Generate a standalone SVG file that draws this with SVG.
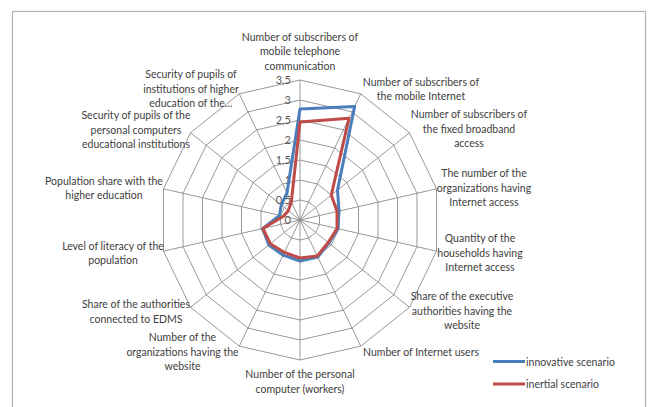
<svg xmlns="http://www.w3.org/2000/svg" width="649" height="407" viewBox="0 0 649 407">
<style>
.bg{fill:#ffffff}
.frame{fill:none;stroke:#b4b4b4;stroke-width:1.2}
.ring{fill:none;stroke:#8c8c8c;stroke-width:0.9}
.spoke{fill:none;stroke:#8c8c8c;stroke-width:0.9}
.tick{font-family:Lato,"Liberation Sans",sans-serif;font-size:11px;fill:#595959;text-anchor:end}
.lbl{font-family:Lato,"Liberation Sans",sans-serif;font-size:10.5px;fill:#404040;text-anchor:middle}
.leg{font-family:Lato,"Liberation Sans",sans-serif;font-size:10.5px;fill:#404040}
.blue{fill:none;stroke:#4a7ebb;stroke-width:3;stroke-linejoin:round}
.red{fill:none;stroke:#be4b48;stroke-width:3;stroke-linejoin:round}
</style>
<rect class="bg" x="0" y="0" width="649" height="407"/>
<rect id="frame" class="frame" x="12.5" y="11.5" width="633" height="405"/>
<g id="grid" transform="translate(300,220)">
<polygon class="ring" points="0,-20 8.68,-18.02 15.64,-12.47 19.50,-4.45 19.50,4.45 15.64,12.47 8.68,18.02 0,20 -8.68,18.02 -15.64,12.47 -19.50,4.45 -19.50,-4.45 -15.64,-12.47 -8.68,-18.02"/>
<polygon class="ring" points="0,-40 17.36,-36.04 31.27,-24.94 39.00,-8.90 39.00,8.90 31.27,24.94 17.36,36.04 0,40 -17.36,36.04 -31.27,24.94 -39.00,8.90 -39.00,-8.90 -31.27,-24.94 -17.36,-36.04"/>
<polygon class="ring" points="0,-60 26.03,-54.06 46.91,-37.41 58.50,-13.35 58.50,13.35 46.91,37.41 26.03,54.06 0,60 -26.03,54.06 -46.91,37.41 -58.50,13.35 -58.50,-13.35 -46.91,-37.41 -26.03,-54.06"/>
<polygon class="ring" points="0,-80 34.71,-72.08 62.55,-49.88 77.99,-17.80 77.99,17.80 62.55,49.88 34.71,72.08 0,80 -34.71,72.08 -62.55,49.88 -77.99,17.80 -77.99,-17.80 -62.55,-49.88 -34.71,-72.08"/>
<polygon class="ring" points="0,-100 43.39,-90.10 78.18,-62.35 97.49,-22.25 97.49,22.25 78.18,62.35 43.39,90.10 0,100 -43.39,90.10 -78.18,62.35 -97.49,22.25 -97.49,-22.25 -78.18,-62.35 -43.39,-90.10"/>
<polygon class="ring" points="0,-120 52.07,-108.12 93.82,-74.82 116.99,-26.70 116.99,26.70 93.82,74.82 52.07,108.12 0,120 -52.07,108.12 -93.82,74.82 -116.99,26.70 -116.99,-26.70 -93.82,-74.82 -52.07,-108.12"/>
<polygon class="ring" points="0,-140 60.74,-126.14 109.46,-87.29 136.49,-31.15 136.49,31.15 109.46,87.29 60.74,126.14 0,140 -60.74,126.14 -109.46,87.29 -136.49,31.15 -136.49,-31.15 -109.46,-87.29 -60.74,-126.14"/>
<path class="spoke" d="M0,-140L0,140M60.74,-126.14L-60.74,126.14M109.46,-87.29L-109.46,87.29M136.49,-31.15L-136.49,31.15M136.49,31.15L-136.49,-31.15M109.46,87.29L-109.46,-87.29M60.74,126.14L-60.74,-126.14"/>
</g>
<g id="ticks" transform="translate(300,220)">
<text class="tick" x="-9" y="4">0</text>
<text class="tick" x="-9" y="-16">0,5</text>
<text class="tick" x="-9" y="-36">1</text>
<text class="tick" x="-9" y="-56">1,5</text>
<text class="tick" x="-9" y="-76">2</text>
<text class="tick" x="-9" y="-96">2,5</text>
<text class="tick" x="-9" y="-116">3</text>
<text class="tick" x="-9" y="-136">3,5</text>
</g>
<g id="series" transform="translate(300,220)">
<polygon id="innovative" class="blue" points="0,-111 54.67,-113.52 37.53,-29.93 39.00,-8.90 38.02,8.68 28.93,23.07 17.79,36.94 0,41 -16.92,35.14 -31.27,24.94 -37.05,8.46 -20.47,-4.67 -18.76,-14.96 -13.02,-27.03"/>
<polygon id="inertial" class="red" points="0,-98 49.03,-101.81 31.27,-24.94 37.05,-8.46 37.05,8.46 28.15,22.45 17.36,36.04 0,38 -15.62,32.43 -29.71,23.69 -37.05,8.46 -16.57,-3.78 -11.73,-9.35 -8.68,-18.02"/>
</g>
<g id="labels">
<text class="lbl" x="300" y="40.5">Number of subscribers of<tspan x="300" dy="14.7">mobile telephone</tspan><tspan x="300" dy="14.7">communication</tspan></text>
<text class="lbl" x="421" y="85.5">Number of subscribers of<tspan x="421" dy="14.7">the mobile Internet</tspan></text>
<text class="lbl" x="469" y="118">Number of subscribers of<tspan x="469" dy="14.7">the fixed broadband</tspan><tspan x="469" dy="14.7">access</tspan></text>
<text class="lbl" x="484" y="177">The number of the<tspan x="484" dy="14.7">organizations having</tspan><tspan x="484" dy="14.7">Internet access</tspan></text>
<text class="lbl" x="480" y="242">Quantity of the<tspan x="480" dy="14.7">households having</tspan><tspan x="480" dy="14.7">Internet access</tspan></text>
<text class="lbl" x="462" y="300">Share of the executive<tspan x="462" dy="14.7">authorities having the</tspan><tspan x="462" dy="14.7">website</tspan></text>
<text class="lbl" x="421" y="355.5">Number of Internet users</text>
<text class="lbl" x="300" y="378">Number of the personal<tspan x="300" dy="14.7">computer (workers)</tspan></text>
<text class="lbl" x="182.5" y="341">Number of the<tspan x="182.5" dy="14.7">organizations having the</tspan><tspan x="182.5" dy="14.7">website</tspan></text>
<text class="lbl" x="136" y="308">Share of the authorities<tspan x="136" dy="14.7">connected to EDMS</tspan></text>
<text class="lbl" x="113" y="249.5">Level of literacy of the<tspan x="113" dy="14.7">population</tspan></text>
<text class="lbl" x="104" y="184.5">Population share with the<tspan x="104" dy="14.7">higher education</tspan></text>
<text class="lbl" x="136" y="118.8">Security of pupils of the<tspan x="136" dy="14.7">personal computers</tspan><tspan x="136" dy="14.7">educational institutions</tspan></text>
<text class="lbl" x="191" y="78">Security of pupils of<tspan x="191" dy="14.7">institutions of higher</tspan><tspan x="191" dy="14.7">education of the…</tspan></text>
</g>
<g id="legend">
<line class="blue" x1="493" y1="361.5" x2="525" y2="361.5" stroke-width="3.5"/>
<text class="leg" x="526" y="365.5">innovative scenario</text>
<line class="red" x1="493" y1="384" x2="525" y2="384" stroke-width="3.5"/>
<text class="leg" x="526" y="388">inertial scenario</text>
</g>
</svg>
